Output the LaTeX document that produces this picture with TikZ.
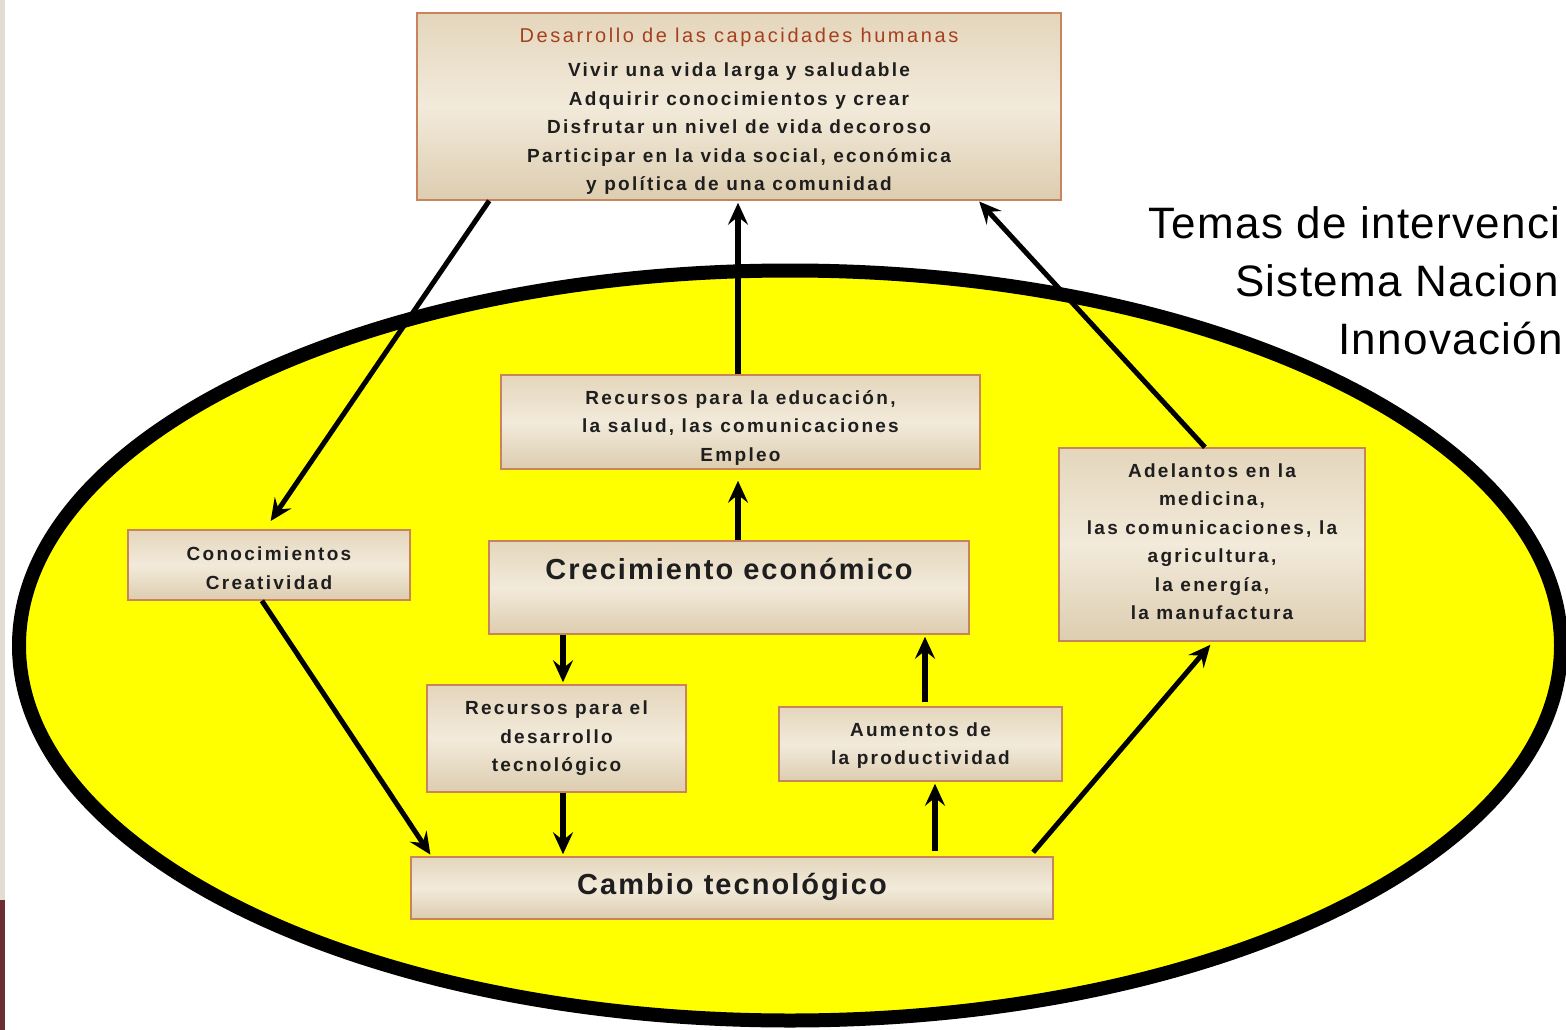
\documentclass[tikz,border=0pt]{standalone}
\usepackage{fontspec}
\setmainfont{Liberation Sans}
\newfontfamily\bxf[LetterSpace=12]{Liberation Sans}
\newfontfamily\bxt[LetterSpace=13]{Liberation Sans}
\newfontfamily\bxl[LetterSpace=7]{Liberation Sans}
\newfontfamily\rtf[LetterSpace=3]{Liberation Sans}
\usetikzlibrary{arrows.meta,calc}
\definecolor{boxline}{HTML}{C8845C}
\definecolor{boxtop}{HTML}{E4D6BC}
\definecolor{boxmid}{HTML}{F2EADA}
\definecolor{boxbot}{HTML}{DDCDB0}
\definecolor{ttlc}{HTML}{A5401E}
\definecolor{txt}{HTML}{1E1E1E}
\definecolor{stripc}{HTML}{E3DCD2}
\definecolor{maroonc}{HTML}{6B2D31}
\definecolor{ellfill}{HTML}{FFFF00}
\begin{document}
\begin{tikzpicture}[x=1pt,y=-1pt,
  box/.style={draw=boxline, line width=1.5pt, top color=boxtop, bottom color=boxbot, middle color=boxmid,
    inner sep=0pt},
  small/.style={font=\bxf\bfseries\fontsize{19}{28.5}\selectfont, align=center, text=txt, inner sep=0pt},
  big/.style={font=\bxl\bfseries\fontsize{29}{32}\selectfont, text=txt, inner sep=0pt},
  rtext/.style={font=\rtf\fontsize{44}{52}\selectfont, text=black, inner sep=0pt, anchor=base west},
  arr/.style={line width=5pt, draw=black, -{Stealth[length=22pt,width=20pt,inset=8pt]}},
  varr/.style={arr, line width=6pt}]
\useasboundingbox (0,0) rectangle (1566,1030);
\fill[white] (0,0) rectangle (1566,1030);
\fill[stripc] (0,0) rectangle (5,900);
\fill[maroonc] (0,900) rectangle (5,1030);
% ellipse
\draw[line width=14pt, fill=ellfill] (790,645.5) ellipse [x radius=771pt, y radius=375pt];
% boxes
\node[box, minimum width=644pt, minimum height=187pt] (top) at (739,106.5) {};
\node[small] (topT) at (739,111.5)
  {{\color{ttlc}\bxt\mdseries\fontsize{20}{28.5}\selectfont Desarrollo de las capacidades humanas}\\[5.5pt]
   Vivir una vida larga y saludable\\
   Adquirir conocimientos y crear\\
   Disfrutar un nivel de vida decoroso\\
   Participar en la vida social, económica\\
   y política de una comunidad};
\node[box, minimum width=479pt, minimum height=94pt] (reced) at (740.5,422) {};
\node[small] (recedT) at (740.5,428)
  {Recursos para la educación,\\la salud, las comunicaciones\\Empleo};
\node[box, minimum width=282pt, minimum height=70pt] (conoc) at (269,565) {};
\node[small] (conocT) at (269,568) {Conocimientos\\Creatividad};
\node[box, minimum width=480pt, minimum height=93pt] (crec) at (729,587.5) {};
\node[big] (crecT) at (729,569) {Crecimiento económico};
\node[box, minimum width=306pt, minimum height=193pt] (adel) at (1212,544.5) {};
\node[small] (adelT) at (1212,541.5)
  {Adelantos en la\\medicina,\\las comunicaciones, la\\agricultura,\\la energía,\\la manufactura};
\node[box, minimum width=259pt, minimum height=107pt] (recdes) at (556.5,738.5) {};
\node[small] (recdesT) at (556.5,738.5) {Recursos para el\\desarrollo\\tecnológico};
\node[box, minimum width=283pt, minimum height=74pt] (aum) at (920.5,744) {};
\node[small] (aumT) at (920.5,745.5) {Aumentos de\\la productividad};
\node[box, minimum width=642pt, minimum height=62pt] (cambio) at (732,888) {};
\node[big] (cambioT) at (732,887) {Cambio tecnológico};
% right text
\node[rtext] (t1) at (1148,238) {Temas de intervenci};
\node[rtext] (t2) at (1235,296) {Sistema Nacion};
\node[rtext] (t3) at (1338,354) {Innovación};
% arrows
\draw[arr, shorten >=10pt] ($(top.south west)!0.113!(top.south east)$) -- ($(conoc.north west)!0.486!(conoc.north east)$);
\draw[varr, shorten >=2pt] ($(reced.north)+(-2.5,0)$) -- ($(top.south)+(-1,0)$);
\draw[varr, shorten >=11pt] ($(crec.north)+(9,0)$) -- ($(reced.south)+(-2.5,0)$);
\draw[arr, shorten >=1pt] ($(adel.north west)!0.477!(adel.north east)$) -- ($(top.south west)!0.871!(top.south east)$);
\draw[arr, shorten >=2pt] ($(conoc.south west)!0.475!(conoc.south east)$) -- ($(cambio.north west)!0.033!(cambio.north east)$);
\draw[varr, shorten >=2pt] ($(crec.south)+(-166,0)$) -- ($(recdes.north)+(6.5,0)$);
\draw[varr, shorten >=2pt] ($(recdes.south)+(6.5,0)$) -- ($(cambio.north)+(-169,0)$);
\draw[varr, shorten >=2pt] ($(cambio.north)+(203,-5)$) -- ($(aum.south)+(14.5,0)$);
\draw[varr, shorten >=2pt] ($(aum.north)+(4.5,-4)$) -- ($(crec.south)+(196,0)$);
\draw[arr, shorten >=4pt] ($(cambio.north west)!0.968!(cambio.north east)+(0,-4)$) -- ($(adel.south west)!0.503!(adel.south east)$);
\end{tikzpicture}
\end{document}
